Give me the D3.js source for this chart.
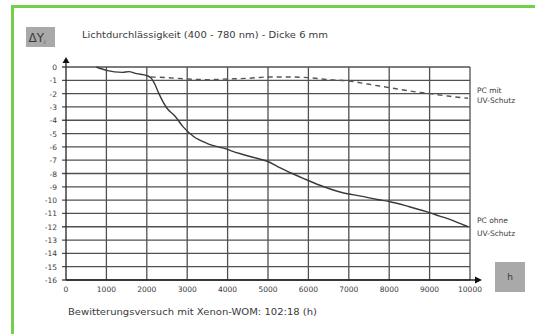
<!DOCTYPE html>
<html><head><meta charset="utf-8">
<script src="https://cdn.jsdelivr.net/npm/d3@7"></script>
<style>body{margin:0;background:#fff}svg{display:block}text{font-family:"DejaVu Sans",sans-serif;fill:#3a3a3a}</style>
</head><body>
<script>
const hoursTicks = [0,1000,2000,3000,4000,5000,6000,7000,8000,9000,10000];
const yTicks = [0,-1,-2,-3,-4,-5,-6,-7,-8,-9,-10,-11,-12,-13,-14,-15,-16];
const ohneHours = [750,1000,1400,1550,1750,2000,2100,2200,2300,2500,2700,2900,3150,3500,3900,4300,4650,5000,5250,5600,5900,6300,6850,7300,7700,8000,8500,8900,9250,9500,9750,9950];
const ohneValues = [0,-0.25,-0.4,-0.35,-0.5,-0.65,-0.8,-1.3,-2.0,-3.1,-3.7,-4.5,-5.2,-5.75,-6.1,-6.5,-6.8,-7.1,-7.5,-8.0,-8.4,-8.9,-9.45,-9.7,-9.95,-10.1,-10.5,-10.85,-11.2,-11.45,-11.75,-12.0];
const mitHours = [2100,2500,3000,3500,4000,4500,5000,5500,6000,6500,7000,7500,8000,8500,9000,9500,9950];
const mitValues = [-0.75,-0.8,-0.9,-0.95,-0.9,-0.85,-0.75,-0.75,-0.8,-0.95,-1.05,-1.3,-1.55,-1.8,-2.0,-2.2,-2.35];

const W=535,H=334;
const svg=d3.select("body").append("svg").attr("width",W).attr("height",H);
svg.append("path").attr("d","M12.5,334 V6.5 H535").attr("fill","none").attr("stroke","#72d14a").attr("stroke-width",3);

const x=d3.scaleLinear().domain([0,10000]).range([66,470]);
const y=d3.scaleLinear().domain([0,-16]).range([67,280]);
const gridC="#505050";

svg.append("g").selectAll("line").data(yTicks).join("line")
  .attr("x1",62).attr("x2",470).attr("y1",d=>y(d)).attr("y2",d=>y(d))
  .attr("stroke",gridC).attr("stroke-width",1.3);
svg.append("g").selectAll("line").data(hoursTicks.slice(1)).join("line")
  .attr("x1",d=>x(d)).attr("x2",d=>x(d)).attr("y1",y(0)).attr("y2",y(-16))
  .attr("stroke",gridC).attr("stroke-width",1.3);
svg.append("line").attr("x1",x(0)).attr("x2",x(0)).attr("y1",y(-16)).attr("y2",61).attr("stroke","#222").attr("stroke-width",1.3);
svg.append("path").attr("d",`M${x(0)},57 L${x(0)-3.5},63 L${x(0)+3.5},63 Z`).attr("fill","#111");
svg.append("line").attr("x1",x(0)).attr("x2",476).attr("y1",y(-16)).attr("y2",y(-16)).attr("stroke","#222").attr("stroke-width",1.3);
svg.append("path").attr("d",`M482,${y(-16)} L475,${y(-16)-3.5} L475,${y(-16)+3.5} Z`).attr("fill","#111");

svg.append("g").selectAll("text").data(yTicks).join("text")
  .attr("x",57).attr("y",d=>y(d)+3).attr("text-anchor","end").attr("font-size",7.5).text(d=>d);
svg.append("g").selectAll("text").data(hoursTicks).join("text")
  .attr("x",d=>x(d)).attr("y",292).attr("text-anchor","middle").attr("font-size",7.5).text(d=>d);

const line=d3.line().x(d=>x(d[0])).y(d=>y(d[1])).curve(d3.curveMonotoneX);
svg.append("path").datum(ohneHours.map((h,i)=>[h,ohneValues[i]])).attr("d",line)
  .attr("fill","none").attr("stroke","#3a3a3a").attr("stroke-width",1.4);
svg.append("path").datum(mitHours.map((h,i)=>[h,mitValues[i]])).attr("d",line)
  .attr("fill","none").attr("stroke","#555").attr("stroke-width",1.4).attr("stroke-dasharray","5,4");

svg.append("text").attr("x",82).attr("y",38).attr("font-size",9).attr("textLength",246).attr("lengthAdjust","spacingAndGlyphs")
  .text("Lichtdurchlässigkeit (400 - 780 nm) - Dicke 6 mm");
svg.append("text").attr("x",68).attr("y",315).attr("font-size",9).attr("textLength",249).attr("lengthAdjust","spacingAndGlyphs")
  .text("Bewitterungsversuch mit Xenon-WOM: 102:18 (h)");

const lab=[["PC mit",93],["UV-Schutz",103],["PC ohne",223],["UV-Schutz",236]];
svg.append("g").selectAll("text").data(lab).join("text").attr("x",477).attr("y",d=>d[1]).attr("font-size",7.5).text(d=>d[0]);

svg.append("rect").attr("x",26).attr("y",27).attr("width",29).attr("height",20).attr("fill","#a9a9a9");
const t=svg.append("text").attr("x",28.5).attr("y",42).attr("font-size",12).attr("fill","#333");
t.append("tspan").text("ΔY");
t.append("tspan").attr("font-size",5).attr("dy",2).text("i");
svg.append("rect").attr("x",495).attr("y",262).attr("width",30).attr("height",30).attr("fill","#a9a9a9");
svg.append("text").attr("x",510).attr("y",280).attr("text-anchor","middle").attr("font-size",9).text("h");
</script>
</body></html>
